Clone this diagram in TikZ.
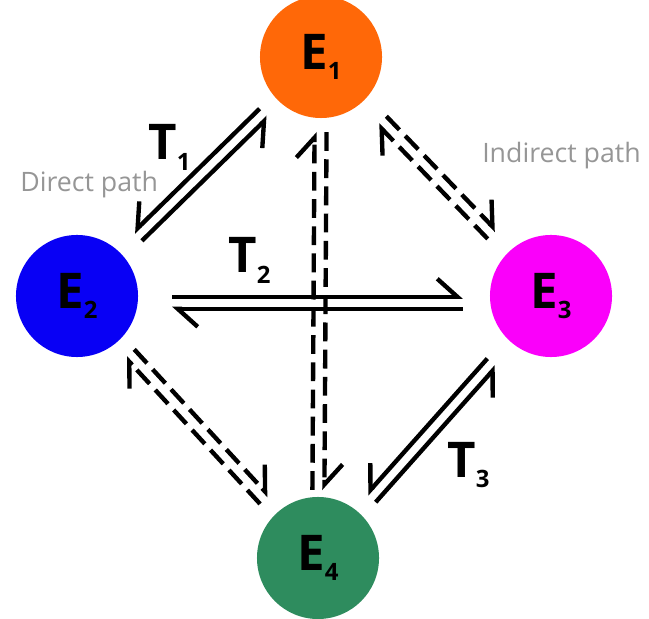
\documentclass[tikz,border=0pt]{standalone}
\usepackage{fontspec}
\setmainfont{Open Sans}
\usepackage{tikz}
\usetikzlibrary{arrows.meta,calc}

\definecolor{eorange}{RGB}{255,104,8}
\definecolor{eblue}{RGB}{8,0,245}
\definecolor{emagenta}{RGB}{250,0,250}
\definecolor{egreen}{RGB}{46,140,94}
\definecolor{pathgrey}{RGB}{150,150,150}

% half distance between the two lines of a pair
\newcommand{\sepd}{0.15cm}
\newcommand{\idx}[1]{\raisebox{-0.22em}{\fontsize{17}{17}\selectfont #1}}

% #1 style, #2 from, #3 to, #4 side (90 left, 270 right), #5 gap at #2, #6 gap at #3
\newcommand{\twoway}[6]{%
    \draw[#1,shorten <=#5,shorten >=#6] ($(#2)!\sepd!#4:(#3)$) -- ($(#3)!\sepd!-#4:(#2)$);
    \draw[#1,shorten <=#6,shorten >=#5] ($(#3)!\sepd!#4:(#2)$) -- ($(#2)!\sepd!-#4:(#3)$);
}

\tikzset{
    state/.style={circle, minimum size=3.05cm, inner sep=0pt,
        font=\fontsize{35}{35}\selectfont\bfseries},
    lbl/.style={anchor=base west, inner sep=0pt, font=\fontsize{35}{35}\selectfont\bfseries},
    note/.style={anchor=base west, inner sep=0pt, text=pathgrey, font=\fontsize{19}{19}\selectfont},
    link/.style={line width=3.1pt},
    dlink/.style={link, dash pattern=on 0.47cm off 0.21cm},
    barbL/.style={-{Straight Barb[harpoon, length=0.5cm, width=0.9cm]}},
    barbR/.style={-{Straight Barb[harpoon, swap, length=0.5cm, width=0.9cm]}}
}

\begin{document}
\begin{tikzpicture}[x=0.025cm, y=0.025cm]
    \useasboundingbox (0,0) rectangle (649,618);

    \node[state, fill=eorange]  (e1) at (321,561) {E\idx{1}};
    \node[state, fill=eblue]    (e2) at (77,322)  {E\idx{2}};
    \node[state, fill=emagenta] (e3) at (551,322) {E\idx{3}};
    \node[state, fill=egreen]   (e4) at (318,60)  {E\idx{4}};

    % direct transitions
    \twoway{link,barbR}{e2}{e1}{270}{2.125cm}{2cm}
    \begin{scope}[transform canvas={yshift=-0.17cm}]
        \twoway{link,barbL}{e2}{e3}{90}{2.375cm}{2.2cm}
    \end{scope}
    \twoway{link,barbR}{e4}{e3}{270}{2cm}{2.225cm}

    % indirect ones
    \twoway{dlink,barbL}{e1}{e3}{90}{2.2cm}{2.125cm}
    \twoway{dlink,barbL}{e2}{e4}{90}{1.95cm}{1.975cm}
    \twoway{dlink,barbL}{e1}{e4}{90}{1.875cm}{1.7cm}

    \node[lbl] (t1) at (148,458) {T\idx{1}};
    \node[lbl] (t2) at (228,345) {T\idx{2}};
    \node[lbl] (t3) at (447,141) {T\idx{3}};

    \node[note] (direct)   at (20,426)  {Direct path};
    \node[note] (indirect) at (482,455) {Indirect path};
\end{tikzpicture}
\end{document}
